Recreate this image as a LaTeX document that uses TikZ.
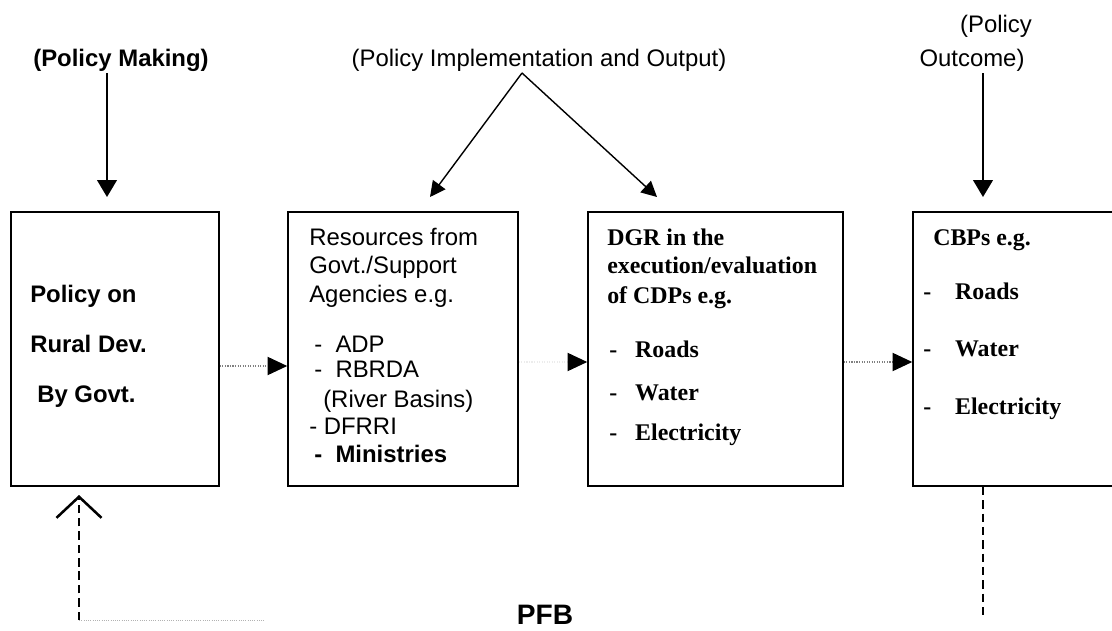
\documentclass[tikz,border=0pt]{standalone}
\usepackage{fontspec}
\setmainfont{Liberation Serif}
\setsansfont{Liberation Sans}
\usetikzlibrary{arrows.meta}

\tikzset{
  box/.style={draw, line width=1.1pt, inner sep=0pt},
  head/.style={font=\sffamily\fontsize{17}{20}\selectfont, inner sep=1pt, anchor=base},
  sanstxt/.style={font=\sffamily\fontsize{17}{20}\selectfont, inner sep=0pt, anchor=base west},
  sansbold/.style={sanstxt, font=\sffamily\bfseries\fontsize{17}{20}\selectfont},
  sertxt/.style={font=\rmfamily\bfseries\fontsize{17}{20}\selectfont, inner sep=0pt, anchor=base west},
  down/.style={line width=1.2pt, -{Triangle[length=12pt,width=14pt]}},
  slant/.style={line width=1pt, -{Triangle[length=11pt,width=11pt]}},
  flow/.style={densely dotted, gray, line width=0.8pt, -{Triangle[length=14pt,width=13pt,color=black]}},
  fback/.style={dash pattern=on 6pt off 3.5pt, line width=1.8pt},
}

\begin{document}
\begin{tikzpicture}[x=0.025cm, y=-0.025cm]
  \clip (0,0) rectangle (1112,631);

  % boxes
  \node[box, minimum width=5.2cm, minimum height=6.85cm] (b1) at (115,349) {};
  \node[box, minimum width=5.75cm, minimum height=6.85cm] (b2) at (403,349) {};
  \node[box, minimum width=6.375cm, minimum height=6.85cm] (b3) at (715.5,349) {};
  \node[box, minimum width=5.3cm, minimum height=6.85cm] (b4) at (1019,349) {};

  % stage labels
  \node[head, font=\sffamily\bfseries\fontsize{17}{20}\selectfont] (pm) at (121,66) {(Policy Making)};
  \node[head] (pio) at (539,66) {(Policy Implementation and Output)};
  \node[head] (po1) at (996,32) {(Policy};
  \node[head] (po2) at (972,66) {Outcome)};

  \coordinate (apex) at (522,73);
  \coordinate (t1) at (107,197);
  \coordinate (t2) at (430,197);
  \coordinate (t3) at (657,197);
  \coordinate (t4) at (983,197);
  \draw[down] (t1 |- apex) -- (t1);
  \draw[slant] (apex) -- (t2);
  \draw[slant] (apex) -- (t3);
  \draw[down] (t4 |- apex) -- (t4);

  % box texts
  \node[sansbold] (p1) at (30,302) {Policy on};
  \node[sansbold] (p2) at (30,352) {Rural Dev.};
  \node[sansbold] (p3) at (37,402) {By Govt.};

  \node[sanstxt] (r1) at (309,245) {Resources from};
  \node[sanstxt] (r2) at (309,273) {Govt./Support};
  \node[sanstxt] (r3) at (309,302) {Agencies e.g.};
  \node[sanstxt] (r4) at (314,352) {-~~ADP};
  \node[sanstxt] (r5) at (314,377) {-~~RBRDA};
  \node[sanstxt] (r6) at (323,407) {(River Basins)};
  \node[sanstxt] (r7) at (309,434) {- DFRRI};
  \node[sansbold] (r8) at (314,462) {-~~Ministries};

  \node[sertxt] (d1) at (607,245) {DGR in the};
  \node[sertxt] (d2) at (607,273) {execution/evaluation};
  \node[sertxt] (d3) at (607,303) {of CDPs e.g.};
  \node[sertxt] (d4) at (609,357) {-~~~Roads};
  \node[sertxt] (d5) at (609,400) {-~~~Water};
  \node[sertxt] (d6) at (609,440) {-~~~Electricity};

  \node[sertxt] (c1) at (933,245) {CBPs e.g.};
  \node[sertxt] (c2) at (923,299) {-~~~~Roads};
  \node[sertxt] (c3) at (923,356) {-~~~~Water};
  \node[sertxt] (c4) at (923,414) {-~~~~Electricity};

  % flow between boxes
  \coordinate (y1) at (0,366);
  \coordinate (y2) at (0,362);
  \draw[flow] (b1.east |- y1) -- (b2.west |- y1);
  \draw[flow, gray!15] (b2.east |- y2) -- (b3.west |- y2);
  \draw[flow] (b3.east |- y2) -- (b4.west |- y2);

  % feedback
  \coordinate (fl) at (79,620);
  \coordinate (fu) at (79,495);
  \coordinate (fr) at (983,620);
  \draw[fback, -{Straight Barb[length=15pt,width=32pt]}] (fl) -- (fu);
  \draw[fback] (b4.south -| fr) -- (fr);
  \draw[densely dotted, gray!60, line width=0.6pt] (fl) -- ++(186,0);
  \node[font=\sffamily\bfseries\fontsize{20}{24}\selectfont, anchor=base, inner sep=0pt] (pfb) at (545,624) {PFB};
\end{tikzpicture}
\end{document}
